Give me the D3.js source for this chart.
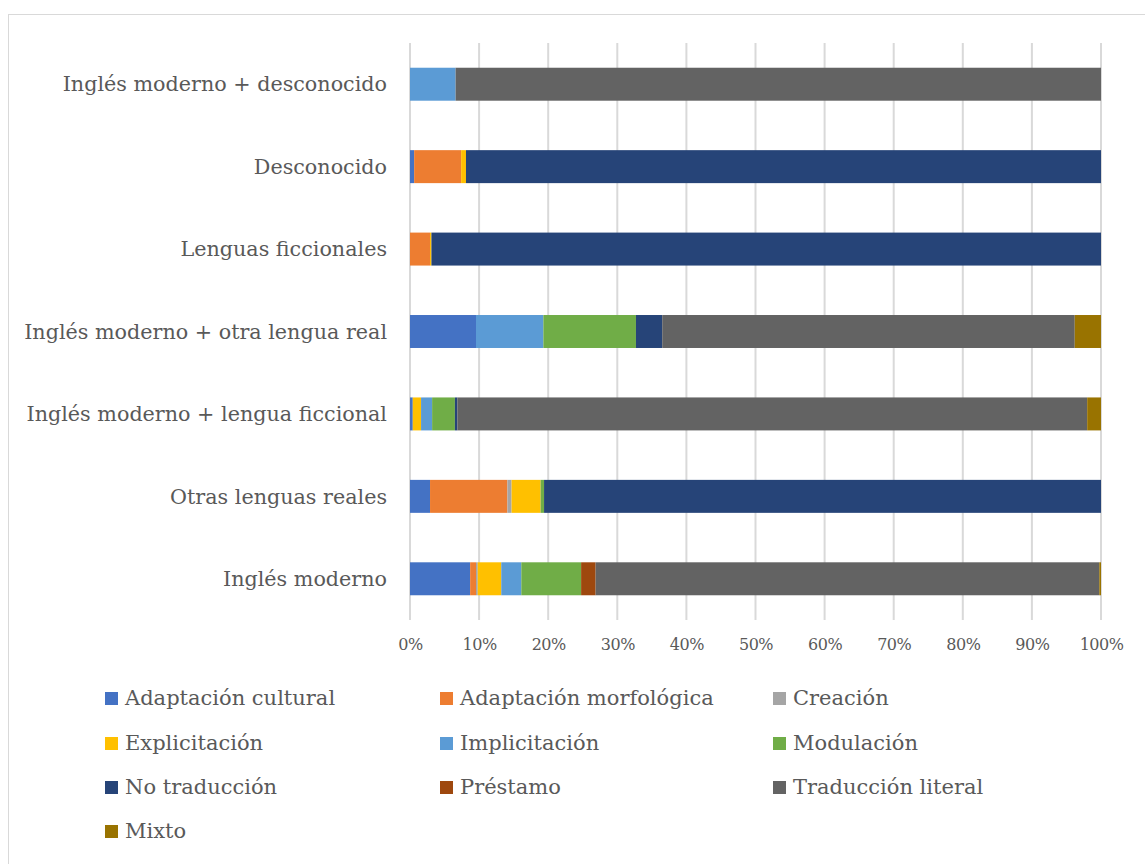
<!DOCTYPE html>
<html><head><meta charset="utf-8">
<script src="https://cdn.jsdelivr.net/npm/d3@7"></script>
<style>body{margin:0;background:#fff}svg{display:block}</style>
</head><body><svg id="c" width="1145" height="864"></svg>
<script>
const categories = ["Inglés moderno + desconocido","Desconocido","Lenguas ficcionales","Inglés moderno + otra lengua real","Inglés moderno + lengua ficcional","Otras lenguas reales","Inglés moderno"];
const seriesNames = ["Adaptación cultural","Adaptación morfológica","Creación","Explicitación","Implicitación","Modulación","No traducción","Préstamo","Traducción literal","Mixto"];
const seriesColors = ["#4472C4","#ED7D31","#A5A5A5","#FFC000","#5B9BD5","#70AD47","#264478","#9E480E","#636363","#997300"];
// values per series, in category order above (percent)
const adaptacionCultural   = [0,   0.6, 0,   9.55, 0.4, 2.9, 8.7];
const adaptacionMorfologica= [0,   6.8, 2.9, 0,    0,   11.2, 0.85];
const creacion             = [0,   0,   0,   0,    0,   0.6, 0.25];
const explicitacion        = [0,   0.7, 0.2, 0,    1.2, 4.2, 3.4];
const implicitacion        = [6.6, 0,   0,   9.75, 1.6, 0,   2.9];
const modulacion           = [0,   0,   0,   13.4, 3.3, 0.5, 8.65];
const noTraduccion         = [0,   91.9,96.9,3.8,  0.35,80.6,0];
const prestamo             = [0,   0,   0,   0,    0,   0,   2.1];
const traduccionLiteral    = [93.4,0,   0,   59.7, 91.15,0,  72.85];
const mixto                = [0,   0,   0,   3.8,  2.0, 0,   0.25];
const tickLabels = ["0%","10%","20%","30%","40%","50%","60%","70%","80%","90%","100%"];

const seriesValues = [adaptacionCultural,adaptacionMorfologica,creacion,explicitacion,implicitacion,modulacion,noTraduccion,prestamo,traduccionLiteral,mixto];
const rows = categories.map((c,i)=>{const o={cat:c};seriesNames.forEach((s,j)=>o[s]=seriesValues[j][i]);return o;});
const stacked = d3.stack().keys(seriesNames).offset(d3.stackOffsetExpand)(rows);

const svg = d3.select("#c");
const font = "'DejaVu Serif', serif";
svg.append("rect").attr("x",8.5).attr("y",14.5).attr("width",1200).attr("height",900).attr("fill","#fff").attr("stroke","#d9d9d9").attr("stroke-width",1);

const x = d3.scaleLinear().domain([0,1]).range([410,1101]);
const y = d3.scaleBand().domain(categories).range([43,620]).paddingInner(0.6).paddingOuter(0.3);

// gridlines
const ticks = d3.range(0,1.0001,0.1);
svg.append("g").selectAll("line").data(ticks).join("line")
  .attr("x1",d=>x(d)).attr("x2",d=>x(d)).attr("y1",43).attr("y2",620)
  .attr("stroke","#d9d9d9").attr("stroke-width",2);

// bars
svg.append("g").selectAll("g").data(stacked).join("g")
  .attr("fill",(d,i)=>seriesColors[i])
  .selectAll("rect").data(d=>d).join("rect")
  .attr("x",d=>x(d[0])).attr("width",d=>Math.max(0,x(d[1])-x(d[0])))
  .attr("y",d=>y(d.data.cat)).attr("height",y.bandwidth());

// x axis labels
const xAxis = d3.axisBottom(x).tickValues(ticks).tickFormat((d,i)=>tickLabels[i]).tickSize(0).tickPadding(0);
const gx = svg.append("g").attr("transform","translate(0,639)").call(xAxis);
gx.select(".domain").remove();
gx.selectAll("text").attr("font-family",font).attr("font-size",16).attr("fill","#595959").attr("dy","0.71em").attr("letter-spacing",-0.5);

// y axis labels
const yAxis = d3.axisLeft(y).tickSize(0).tickPadding(0);
const gy = svg.append("g").attr("transform","translate(387,0)").call(yAxis);
gy.select(".domain").remove();
gy.selectAll("text").attr("font-family",font).attr("font-size",20.7).attr("fill","#595959").attr("dy","0.35em");

// legend
const legX = [105,440,773], legY = [698,743,787,831];
const leg = svg.append("g").selectAll("g").data(seriesNames).join("g")
  .attr("transform",(d,i)=>`translate(${legX[i%3]},${legY[Math.floor(i/3)]})`);
leg.append("rect").attr("x",0).attr("y",-6).attr("width",13).attr("height",13).attr("fill",(d,i)=>seriesColors[i]);
leg.append("text").attr("x",20).attr("y",0).attr("dy","0.35em").text(d=>d)
  .attr("font-family",font).attr("font-size",21).attr("fill","#595959");
</script></body></html>
